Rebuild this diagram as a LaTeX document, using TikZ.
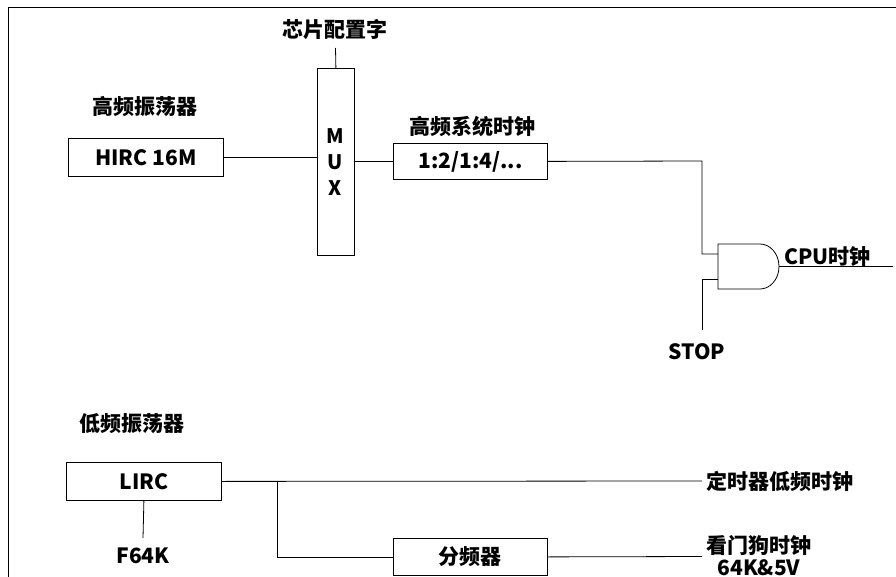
\documentclass[tikz,border=0pt]{standalone}
\usepackage{fontspec}
\setmainfont{Noto Sans CJK SC}[BoldFont={Noto Sans CJK SC Black}]
\begin{document}
\begin{tikzpicture}[x=1pt,y=-1pt,
  line width=0.8pt,
  lbl/.style={font=\bfseries\fontsize{21}{25}\selectfont, inner sep=0pt},
  blk/.style={draw, line width=0.8pt, inner sep=0pt, anchor=north west},
]
\useasboundingbox (0,0) rectangle (896,577);
% frame
\draw (8,577) -- (8,7) -- (896,7);

% MUX
\node[blk, minimum width=37pt, minimum height=187pt] (mux) at (317,68) {};
\node[lbl, align=center, font=\bfseries\fontsize{20}{26}\selectfont] (muxt) at (335.5,162) {M\\U\\X};
\node[lbl] (cfg) at (335,30) {芯片配置字};
\coordinate (cfgb) at (335.5,48);
\draw (cfgb) -- (mux.north);

% HIRC
\node[lbl] (hosc) at (145,107) {高频振荡器};
\node[blk, minimum width=155pt, minimum height=38pt] (hirc) at (68,138) {};
\node[lbl] (hirct) at (hirc.center) {HIRC 16M};
\draw (hirc.east) -- (hirc.east -| mux.west);

% divider
\node[lbl] (hsys) at (472,127) {高频系统时钟};
\node[blk, minimum width=154pt, minimum height=36pt] (div) at (393,143) {};
\node[lbl] (divt) at (div.center) {1:2/1:4/...};
\draw (div.west -| mux.east) -- (div.west);

% AND gate
\coordinate (gin1) at (718,254);
\coordinate (gin2) at (718,279);
\coordinate (gout) at (779,266.5);
\draw (718,244) -- (760,244) arc[start angle=-90, end angle=90, x radius=19, y radius=22.5] -- (718,289) -- cycle;
\coordinate (c1) at (702,161);
\draw (div.east) -- (c1) |- (gin1);
\coordinate (cpuend) at (893,266.5);
\draw (gout) -- (cpuend);
\node[lbl, anchor=west] (cpu) at (784,257) {CPU时钟};
\node[lbl] (stop) at (697,352) {STOP};
\coordinate (stopt) at (702,330);
\draw (gin2) -- (702,279) -- (stopt);

% LIRC
\node[lbl] (losc) at (132,424) {低频振荡器};
\node[blk, minimum width=155pt, minimum height=38pt] (lirc) at (66,462) {};
\node[lbl] (lircx) at (lirc.center) {LIRC};
\node[lbl] (f64) at (143,556) {F64K};
\coordinate (f64t) at (143,538);
\draw (lirc.south) -- (f64t);

\node[lbl, anchor=west] (tmr) at (706,481) {定时器低频时钟};
\coordinate (tmrl) at (702,481);
\draw (lirc.east) -- (tmrl);

\node[blk, minimum width=154pt, minimum height=37pt] (fdiv) at (393,538) {};
\node[lbl] (fdivt) at (fdiv.center) {分频器};
\coordinate (br) at (277,481);
\draw (br) |- (fdiv.west);
\coordinate (wdl) at (702,556.5);
\draw (fdiv.east) -- (wdl);
\node[lbl] (wd1) at (759,545) {看门狗时钟};
\node[lbl] (wd2) at (759,568) {64K\&5V};
\end{tikzpicture}
\end{document}
